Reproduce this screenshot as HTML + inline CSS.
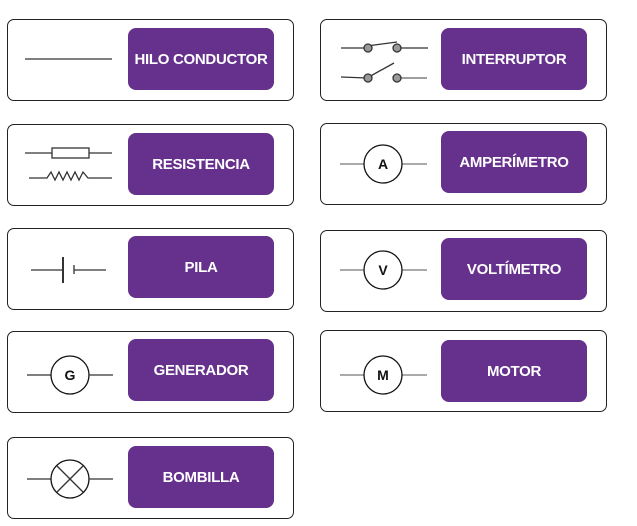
<!DOCTYPE html>
<html><head><meta charset="utf-8"><style>
body{margin:0;width:637px;height:526px;background:#fff;position:relative;overflow:hidden;font-family:"Liberation Sans",sans-serif}
.b{position:absolute;border:1.3px solid #222;border-radius:7px;box-sizing:border-box;width:287px;height:82px}
.p{position:absolute;background:#66308d;border-radius:8px;color:#fff;font-weight:bold;font-size:15px;display:flex;align-items:center;justify-content:center;width:146px;height:62px;letter-spacing:-0.3px}
svg{position:absolute;left:0;top:0}
</style></head><body>
<div class="b" style="left:7px;top:19px"></div><div class="p" style="left:128px;top:28px">HILO CONDUCTOR</div>
<div class="b" style="left:7px;top:124px"></div><div class="p" style="left:128px;top:133px">RESISTENCIA</div>
<div class="b" style="left:7px;top:228px"></div><div class="p" style="left:128px;top:236px">PILA</div>
<div class="b" style="left:7px;top:331px"></div><div class="p" style="left:128px;top:339px">GENERADOR</div>
<div class="b" style="left:7px;top:437px"></div><div class="p" style="left:128px;top:446px">BOMBILLA</div>
<div class="b" style="left:320px;top:19px"></div><div class="p" style="left:441px;top:28px">INTERRUPTOR</div>
<div class="b" style="left:320px;top:123px"></div><div class="p" style="left:441px;top:131px">AMPERÍMETRO</div>
<div class="b" style="left:320px;top:230px"></div><div class="p" style="left:441px;top:238px">VOLTÍMETRO</div>
<div class="b" style="left:320px;top:330px"></div><div class="p" style="left:441px;top:340px">MOTOR</div>
<svg width="637" height="526" stroke="#333" stroke-width="1.3" fill="none" font-family="Liberation Sans" font-weight="bold" font-size="14">
<line x1="25" y1="59" x2="112" y2="59"/>
<line x1="25" y1="153" x2="52" y2="153"/><rect x="52" y="148" width="37" height="10"/><line x1="89" y1="153" x2="112" y2="153"/>
<polyline points="29,178 47,178 51,172 55,180 59,172 63,180 67,172 71,180 75,172 79,180 83,172 88,178 112,178"/>
<line x1="31" y1="270" x2="63" y2="270"/><line x1="63" y1="257" x2="63" y2="283" stroke-width="2"/><line x1="74" y1="265" x2="74" y2="274"/><line x1="74" y1="270" x2="106" y2="270"/>
<line x1="27" y1="375" x2="51" y2="375"/><circle cx="70" cy="375" r="19" stroke="#111"/><line x1="89" y1="375" x2="113" y2="375"/>
<text x="70" y="380" text-anchor="middle" fill="#111" stroke="none">G</text>
<line x1="27" y1="479" x2="51" y2="479"/><circle cx="70" cy="479" r="19" stroke="#111"/><line x1="89" y1="479" x2="113" y2="479"/>
<line x1="57" y1="466" x2="83" y2="492"/><line x1="83" y1="466" x2="57" y2="492"/>
<line x1="341" y1="48" x2="367" y2="48"/><line x1="367" y1="46" x2="397" y2="42"/><line x1="397" y1="48" x2="428" y2="48"/>
<line x1="341" y1="77" x2="367" y2="78"/><line x1="367" y1="78" x2="394" y2="63"/><line x1="397" y1="78" x2="427" y2="78" stroke="#666"/>
<g fill="#999" stroke="#333"><circle cx="368" cy="48" r="4"/><circle cx="397" cy="48" r="4"/><circle cx="368" cy="78" r="4"/><circle cx="397" cy="78" r="4"/></g>
<g stroke="#777"><line x1="340" y1="164" x2="364" y2="164"/><line x1="402" y1="164" x2="427" y2="164"/>
<line x1="340" y1="270" x2="364" y2="270"/><line x1="402" y1="270" x2="427" y2="270"/>
<line x1="340" y1="375" x2="364" y2="375"/><line x1="402" y1="375" x2="427" y2="375"/></g>
<circle cx="383" cy="164" r="19" stroke="#111"/><text x="383" y="169" text-anchor="middle" fill="#111" stroke="none">A</text>
<circle cx="383" cy="270" r="19" stroke="#111"/><text x="383" y="275" text-anchor="middle" fill="#111" stroke="none">V</text>
<circle cx="383" cy="375" r="19" stroke="#111"/><text x="383" y="380" text-anchor="middle" fill="#111" stroke="none">M</text>
</svg>
</body></html>
